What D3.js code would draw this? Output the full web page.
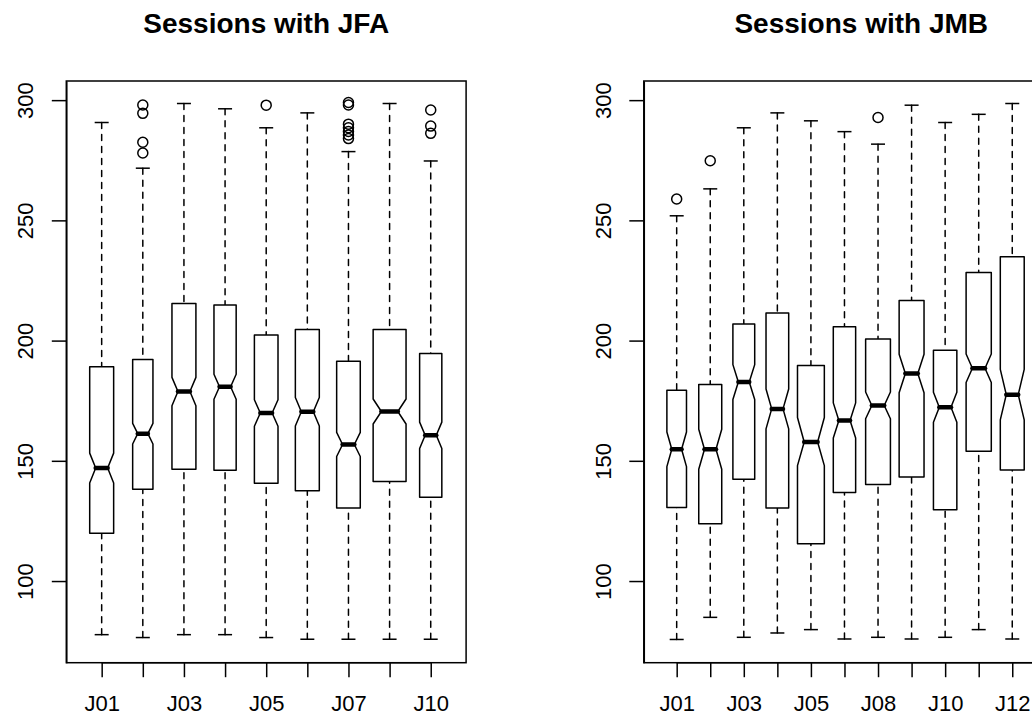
<!DOCTYPE html>
<html>
<head>
<meta charset="utf-8">
<script src="https://cdn.jsdelivr.net/npm/d3@7"></script>
<style>
  html, body { margin: 0; padding: 0; background: #fff; }
  svg { display: block; }
  text { font-family: "Liberation Sans", Arial, Helvetica, sans-serif; fill: #000; }
</style>
</head>
<body>
<script>
// ---------------- data ----------------
const yTicks = [100, 150, 200, 250, 300];
const yRange = [75, 299];

// Panel 1: Sessions with JFA
const jfaTitle = "Sessions with JFA";
const jfaCategories = ["J01", "J02", "J03", "J04", "J05", "J06", "J07", "J08", "J10"];
const jfaLowerWhisker = [77.7, 76.5, 77.7, 77.7, 76.5, 75.8, 75.8, 75.8, 75.8];
const jfaQ1 = [119.9, 138.2, 146.5, 146.1, 140.7, 137.5, 130.4, 141.4, 134.9];
const jfaMedian = [147.0, 161.3, 178.8, 180.8, 169.9, 170.4, 156.8, 170.5, 160.6];
const jfaQ3 = [189.1, 192.1, 215.4, 214.8, 202.3, 204.6, 191.4, 204.6, 194.6];
const jfaUpperWhisker = [290.7, 271.7, 298.6, 296.4, 288.5, 294.7, 278.6, 298.6, 274.7];
const jfaNotchLow = [140.8, 157.0, 172.9, 175.6, 164.4, 164.5, 151.8, 165.3, 155.1];
const jfaNotchHigh = [153.2, 165.6, 184.7, 186.0, 175.4, 176.3, 161.8, 175.7, 166.1];
const jfaCount = [106, 76, 106, 91, 103, 106, 103, 200, 91];
const jfaOutliers = [
  [],
  [298.0, 294.5, 282.5, 278.0],
  [],
  [],
  [297.9],
  [],
  [299.0, 298.0, 290.0, 288.5, 287.0, 285.5, 284.0],
  [],
  [295.9, 289.2, 286.2]
];

// Panel 2: Sessions with JMB
const jmbTitle = "Sessions with JMB";
const jmbCategories = ["J01", "J02", "J03", "J04", "J05", "J06", "J08", "J09", "J10", "J11", "J12", "J13"];
const jmbLowerWhisker = [75.7, 84.9, 76.6, 78.4, 79.8, 75.9, 76.6, 75.9, 76.6, 79.8, 75.9];
const jmbQ1 = [130.6, 123.8, 142.3, 130.4, 115.5, 136.8, 140.1, 143.3, 129.6, 154.0, 146.2];
const jmbMedian = [154.8, 154.8, 182.8, 171.6, 157.8, 166.8, 173.0, 186.3, 172.3, 188.5, 177.5];
const jmbQ3 = [179.3, 181.7, 206.9, 211.5, 189.6, 205.8, 200.7, 216.7, 196.0, 228.3, 234.9];
const jmbUpperWhisker = [251.9, 263.1, 288.5, 294.7, 291.4, 286.9, 281.7, 297.9, 290.7, 294.1, 298.6];
const jmbNotchLow = [147.6, 146.5, 175.5, 163.3, 148.0, 159.5, 167.5, 178.3, 166.0, 182.6, 167.0];
const jmbNotchHigh = [162.0, 163.1, 190.0, 179.9, 168.0, 174.1, 178.6, 194.3, 178.5, 194.4, 188.0];
const jmbCount = [80, 110, 99, 107, 150, 104, 128, 129, 114, 132, 119];
const jmbOutliers = [[258.9], [274.8], [], [], [], [], [292.8], [], [], [], []];

// ---------------- drawing ----------------
const W = 1032, H = 716;
const svg = d3.select("body").append("svg").attr("width", W).attr("height", H);

const plotTop = 81, plotBottom = 662.7;
const FONT = 22, TITLE_FONT = 28;

const ySpan = yRange[1] - yRange[0];
const y = d3.scaleLinear()
  .domain([yRange[0] - 0.04 * ySpan, yRange[1] + 0.04 * ySpan])
  .range([plotBottom, plotTop]);

const panels = [
  { title: jfaTitle, cats: jfaCategories, lw: jfaLowerWhisker, q1: jfaQ1, med: jfaMedian, q3: jfaQ3,
    uw: jfaUpperWhisker, lo: jfaNotchLow, hi: jfaNotchHigh, n: jfaCount, out: jfaOutliers,
    left: 66.3, right: 466.1 },
  { title: jmbTitle, cats: jmbCategories, lw: jmbLowerWhisker, q1: jmbQ1, med: jmbMedian, q3: jmbQ3,
    uw: jmbUpperWhisker, lo: jmbNotchLow, hi: jmbNotchHigh, n: jmbCount, out: jmbOutliers,
    left: 643.8, right: 1078.7 }
];

const LW = 1.5;

panels.forEach(p => {
  const k = p.cats.length;
  const x = d3.scaleLinear()
    .domain([0.5 - 0.04 * k, k + 0.5 + 0.04 * k])
    .range([p.left, p.right]);
  const band = x(2) - x(1);
  const maxSqrt = d3.max(p.n, v => Math.sqrt(v));

  const g = svg.append("g");

  // title
  svg.append("text")
    .attr("x", (p.left + p.right) / 2)
    .attr("y", 33)
    .attr("text-anchor", "middle")
    .style("font-size", TITLE_FONT + "px")
    .style("font-weight", "bold")
    .text(p.title);

  // boxes
  p.med.forEach((m, i) => {
    const cx = x(i + 1);
    const w = 0.8 * band * Math.sqrt(p.n[i]) / maxSqrt;
    const hw = w / 2;
    const nw = hw / 2;
    const bg = g.append("g");

    // whiskers (dashed), drawn from whisker end toward box
    bg.append("line")
      .attr("x1", cx).attr("x2", cx)
      .attr("y1", y(p.uw[i])).attr("y2", y(p.q3[i]))
      .attr("stroke", "#000").attr("stroke-width", LW)
      .attr("stroke-dasharray", "6,6").attr("stroke-linecap", "round");
    bg.append("line")
      .attr("x1", cx).attr("x2", cx)
      .attr("y1", y(p.lw[i])).attr("y2", y(p.q1[i]))
      .attr("stroke", "#000").attr("stroke-width", LW)
      .attr("stroke-dasharray", "6,6").attr("stroke-linecap", "round");
    // staples
    [p.uw[i], p.lw[i]].forEach(v => {
      bg.append("line")
        .attr("x1", cx - 7).attr("x2", cx + 7)
        .attr("y1", y(v)).attr("y2", y(v))
        .attr("stroke", "#000").attr("stroke-width", LW);
    });
    // notched box
    const pts = [
      [cx - hw, y(p.q1[i])], [cx - hw, y(p.lo[i])], [cx - nw, y(m)], [cx - hw, y(p.hi[i])],
      [cx - hw, y(p.q3[i])], [cx + hw, y(p.q3[i])], [cx + hw, y(p.hi[i])], [cx + nw, y(m)],
      [cx + hw, y(p.lo[i])], [cx + hw, y(p.q1[i])]
    ];
    bg.append("polygon")
      .attr("points", pts.map(d => d.join(",")).join(" "))
      .attr("fill", "#fff").attr("stroke", "#000").attr("stroke-width", LW)
      .attr("stroke-linejoin", "round");
    // median
    bg.append("line")
      .attr("x1", cx - nw).attr("x2", cx + nw)
      .attr("y1", y(m)).attr("y2", y(m))
      .attr("stroke", "#000").attr("stroke-width", 4.5).attr("stroke-linecap", "round");
    // outliers
    p.out[i].forEach(v => {
      bg.append("circle")
        .attr("cx", cx).attr("cy", y(v)).attr("r", 5)
        .attr("fill", "none").attr("stroke", "#000").attr("stroke-width", LW);
    });
  });

  // frame
  svg.append("rect")
    .attr("x", p.left).attr("y", plotTop)
    .attr("width", p.right - p.left).attr("height", plotBottom - plotTop)
    .attr("fill", "none").attr("stroke", "#000").attr("stroke-width", LW);

  // y axis
  const ya = svg.append("g")
    .attr("transform", `translate(${p.left},0)`)
    .call(d3.axisLeft(y).tickValues(yTicks).tickSize(14.5).tickSizeOuter(0).tickFormat(d3.format("d")));
  ya.attr("font-family", null).attr("font-size", null);
  ya.select(".domain").attr("stroke", "#000").attr("stroke-width", LW);
  ya.selectAll(".tick line").attr("stroke", "#000").attr("stroke-width", LW);
  ya.selectAll(".tick text")
    .attr("x", 0).attr("y", -33).attr("dy", null)
    .attr("transform", "rotate(-90)")
    .attr("text-anchor", "middle")
    .style("font-size", FONT + "px");

  // x axis
  const positions = d3.range(1, k + 1);
  const xa = svg.append("g")
    .attr("transform", `translate(0,${plotBottom})`)
    .call(d3.axisBottom(x).tickValues(positions).tickSize(14.5).tickSizeOuter(0)
      .tickFormat(d => p.cats[d - 1]));
  xa.attr("font-family", null).attr("font-size", null);
  xa.select(".domain").attr("d", `M${x(1)},0H${x(k)}`).attr("stroke", "#000").attr("stroke-width", LW);
  xa.selectAll(".tick line").attr("stroke", "#000").attr("stroke-width", LW);
  const labels = xa.selectAll(".tick text")
    .attr("y", 48.3).attr("dy", null)
    .style("font-size", FONT + "px");

  // hide overlapping labels (like R's axis label thinning)
  const gap = FONT * 0.8;
  let lastRight = -Infinity;
  labels.each(function(d) {
    const wdt = this.getComputedTextLength();
    const l = x(d) - wdt / 2, r = x(d) + wdt / 2;
    if (l < lastRight + gap) {
      d3.select(this).attr("display", "none");
    } else {
      lastRight = r;
    }
  });
});
</script>
</body>
</html>
